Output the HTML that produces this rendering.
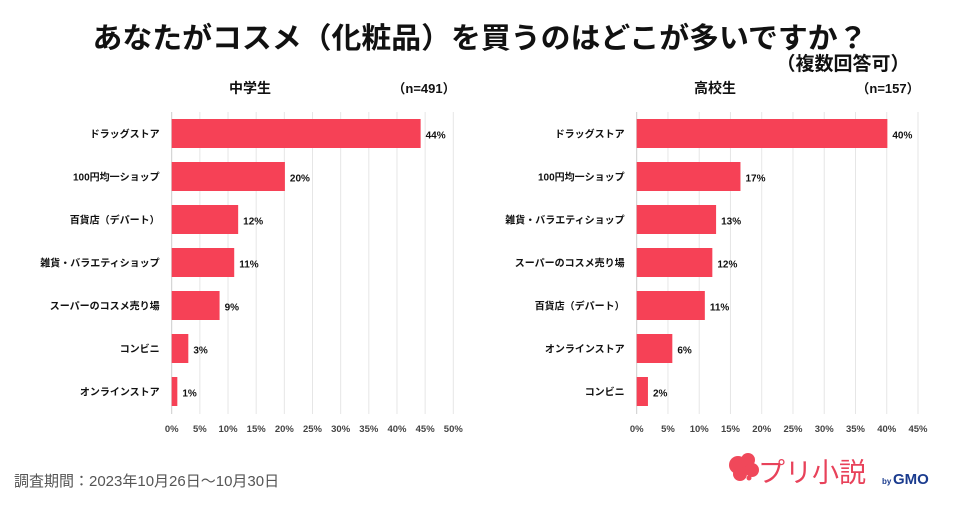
<!DOCTYPE html>
<html><head><meta charset="utf-8">
<style>
body{margin:0;background:#fff;width:963px;height:506px;overflow:hidden;font-family:"Liberation Sans","Noto Sans CJK JP",sans-serif;}
svg text{font-family:"Liberation Sans","Noto Sans CJK JP",sans-serif;}
</style></head>
<body>
<svg id="svg" width="963" height="506" viewBox="0 0 963 506">
<text x="480" y="48" text-anchor="middle" font-size="29" font-weight="bold" fill="#111" textLength="775" lengthAdjust="spacingAndGlyphs">あなたがコスメ（化粧品）を買うのはどこが多いですか？</text>
<text x="843" y="70" text-anchor="middle" font-size="19" font-weight="bold" fill="#111">（複数回答可）</text>
<text x="250" y="93" text-anchor="middle" font-size="14" font-weight="bold" fill="#111">中学生</text>
<text x="424" y="93" text-anchor="middle" font-size="13" font-weight="bold" fill="#111">（n=491）</text>
<text x="715" y="93" text-anchor="middle" font-size="14" font-weight="bold" fill="#111">高校生</text>
<text x="888" y="93" text-anchor="middle" font-size="13" font-weight="bold" fill="#111">（n=157）</text>
<g id="left"></g>
<g id="right"></g>
<text x="14" y="486" font-size="15" fill="#555">調査期間：2023年10月26日〜10月30日</text>
<g>
<circle cx="738" cy="465" r="9" fill="#f0485a"/><circle cx="748" cy="460" r="7" fill="#f0485a"/><circle cx="752" cy="470" r="7" fill="#f0485a"/><circle cx="740" cy="474" r="7" fill="#f0485a"/>
<circle cx="749" cy="478" r="2.5" fill="#f0485a"/>
<text x="758" y="482" font-size="27" fill="#e8425a">プリ小説</text>
<text x="882" y="484" font-size="8" fill="#1a3b8e" font-weight="bold">by</text>
<text x="893" y="484" font-size="15" fill="#1a3b8e" font-weight="bold">GMO</text>
</g>
</svg>
<script>
const leftCategories=["ドラッグストア","100円均一ショップ","百貨店（デパート）","雑貨・バラエティショップ","スーパーのコスメ売り場","コンビニ","オンラインストア"];
const leftValues=[44.2,20.1,11.8,11.1,8.5,2.95,1.0];
const leftLabels=["44%","20%","12%","11%","9%","3%","1%"];
const leftTicks=[0,5,10,15,20,25,30,35,40,45,50];
const rightCategories=["ドラッグストア","100円均一ショップ","雑貨・バラエティショップ","スーパーのコスメ売り場","百貨店（デパート）","オンラインストア","コンビニ"];
const rightValues=[40.1,16.6,12.7,12.1,10.9,5.7,1.8];
const rightLabels=["40%","17%","13%","12%","11%","6%","2%"];
const rightTicks=[0,5,10,15,20,25,30,35,40,45];
const NS="http://www.w3.org/2000/svg";
function mk(g,tag,attrs){const e=document.createElementNS(NS,tag);for(const k in attrs)e.setAttribute(k,attrs[k]);g.appendChild(e);return e;}
function draw(gid,cats,vals,labels,ticks,x0,x1,prefix){
  const g=document.getElementById(gid);
  const max=ticks[ticks.length-1];
  const xs=v=>x0+(x1-x0)*v/max;
  const yc=i=>133.5+i*43;
  ticks.forEach(t=>{
    const l=mk(g,'line',{x1:xs(t),x2:xs(t),y1:112,y2:414,stroke:t===0?'#ccc':'#e6e6e6','stroke-width':1});
    
    
    const tx=mk(g,'text',{x:xs(t),y:432,'text-anchor':'middle','font-size':9.5,fill:'#444','font-weight':'bold'});
    tx.textContent=t+'%';
    
    
  });
  cats.forEach((c,i)=>{
    const r=mk(g,'rect',{x:x0,y:yc(i)-14.5,width:xs(vals[i])-x0,height:29,fill:'#f64156'});
    
    
    const ct=mk(g,'text',{x:x0-12,y:yc(i)+4,'text-anchor':'end','font-size':10,'font-weight':'bold',fill:'#111'});
    ct.textContent=c;
    
    
    const vt=mk(g,'text',{x:xs(vals[i])+5,y:yc(i)+5,'font-size':10,'font-weight':'bold',fill:'#111'});
    vt.textContent=labels[i];
    
    
  });
}
draw('left',leftCategories,leftValues,leftLabels,leftTicks,171.7,453.3,'left');
draw('right',rightCategories,rightValues,rightLabels,rightTicks,636.7,918,'right');
</script>
</body></html>
